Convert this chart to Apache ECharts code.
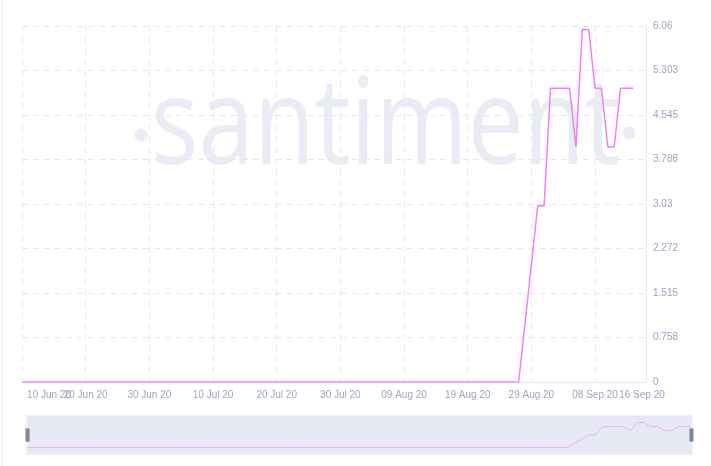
<!DOCTYPE html>
<html>
<head>
<meta charset="utf-8">
<script src="https://cdn.jsdelivr.net/npm/echarts@6/dist/echarts.min.js"></script>
<style>
  html, body { margin: 0; padding: 0; background: #ffffff; }
  #edge { position: absolute; left: 2px; top: 0; width: 1px; height: 466px; background: #eceef5; }
  #chart { position: absolute; left: 0; top: 0; width: 711px; height: 466px; }
</style>
</head>
<body>
<div id="edge"></div>
<div id="chart"></div>
<script>
// ---- data ----
const startDate = '2020-06-10';
const dayCount = 99; // axis runs 10 Jun 20 .. 16 Sep 20
const monthNames = ['Jan','Feb','Mar','Apr','May','Jun','Jul','Aug','Sep','Oct','Nov','Dec'];
// daily values from 10 Jun 20 to 14 Sep 20
const values = [
  0, 0, 0, 0, 0, 0, 0, 0, 0, 0,
  0, 0, 0, 0, 0, 0, 0, 0, 0, 0,
  0, 0, 0, 0, 0, 0, 0, 0, 0, 0,
  0, 0, 0, 0, 0, 0, 0, 0, 0, 0,
  0, 0, 0, 0, 0, 0, 0, 0, 0, 0,
  0, 0, 0, 0, 0, 0, 0, 0, 0, 0,
  0, 0, 0, 0, 0, 0, 0, 0, 0, 0,
  0, 0, 0, 0, 0, 0, 0, 0, 0, 1,
  2, 3, 3, 5, 5, 5, 5, 4, 6, 6,
  5, 5, 4, 4, 5, 5, 5
];
const yTickLabels = ['0', '0.758', '1.515', '2.272', '3.03', '3.788', '4.545', '5.303', '6.06'];
const yMax = 6.06;
const yStep = 0.7575;
const labelEvery = 10;

// category labels (dates)
const categories = [];
{
  const t0 = Date.parse(startDate + 'T00:00:00Z');
  for (let i = 0; i < dayCount; i++) {
    const d = new Date(t0 + i * 86400000);
    const dd = String(d.getUTCDate()).padStart(2, '0');
    const yy = String(d.getUTCFullYear()).slice(2);
    categories.push(dd + ' ' + monthNames[d.getUTCMonth()] + ' ' + yy);
  }
}

const lineColor = '#f47df8';
const labelColor = '#9da6c2';
const gridColor = '#e6e8f2';
const wmColor = '#e9ecf5';
const lastIdx = categories.length - 1;
const showIdx = (i) => i % labelEvery === 0 || i === lastIdx;
const font = 'Liberation Sans, Arial, sans-serif';

const chart = echarts.init(document.getElementById('chart'), null, { renderer: 'canvas' });
chart.setOption({
  backgroundColor: 'transparent',
  animation: false,
  graphic: [
    {
      type: 'text', z: -10, left: 151, top: 70, scaleX: 0.83,
      style: { text: 'santiment', fontFamily: 'Open Sans', fontWeight: 400, fontSize: 120, fill: wmColor }
    },
    { type: 'circle', z: -10, shape: { cx: 141, cy: 135, r: 6.5 }, style: { fill: wmColor } },
    { type: 'circle', z: -10, shape: { cx: 629, cy: 133, r: 6.5 }, style: { fill: wmColor } }
  ],
  grid: { left: 22, right: 65, top: 26, bottom: 84, containLabel: false },
  xAxis: {
    type: 'category',
    data: categories,
    boundaryGap: false,
    axisLine: { show: true, lineStyle: { color: gridColor } },
    axisTick: { show: false },
    axisLabel: {
      interval: 0,
      hideOverlap: false,
      color: labelColor,
      fontSize: 10,
      fontFamily: font,
      margin: 8,
      formatter: (v, i) => {
        if (!showIdx(i)) return '';
        if (i === 0) return '{f|' + v + '}';
        if (i === lastIdx) return '{l|' + v + '}';
        return v;
      },
      rich: {
        f: { padding: [0, 0, 0, 54], color: labelColor, fontSize: 10, fontFamily: font },
        l: { padding: [0, 8, 0, 0], color: labelColor, fontSize: 10, fontFamily: font }
      }
    },
    splitLine: {
      show: true,
      interval: (i) => showIdx(i) && i !== lastIdx,
      lineStyle: { color: gridColor, type: [6, 5], width: 1 }
    }
  },
  yAxis: {
    type: 'value',
    position: 'right',
    min: 0,
    max: yMax,
    interval: yStep,
    axisLine: { show: true, lineStyle: { color: gridColor } },
    axisTick: { show: false },
    axisLabel: {
      color: labelColor,
      fontSize: 10,
      fontFamily: font,
      margin: 7,
      formatter: (v) => yTickLabels[Math.round(v / yStep)] ?? ''
    },
    splitLine: { show: true, lineStyle: { color: gridColor, type: [6, 5], width: 1 } }
  },
  dataZoom: [{
    type: 'slider',
    xAxisIndex: 0,
    start: 0,
    end: 100,
    left: 24,
    right: 21,
    top: 415,
    height: 40,
    backgroundColor: 'transparent',
    borderColor: '#eef0f6',
    borderRadius: 3,
    fillerColor: 'rgba(214,219,235,0.6)',
    showDetail: false,
    brushSelect: false,
    moveHandleSize: 0,
    showDataShadow: true,
    handleIcon: 'path://M0,0H4V13H0Z',
    handleSize: '33%',
    handleStyle: { color: '#7e879e', borderColor: '#7e879e', borderWidth: 0 },
    emphasis: { handleStyle: { color: '#7e879e', borderColor: '#7e879e' } },
    dataBackground: { lineStyle: { color: lineColor, width: 1, opacity: 1 }, areaStyle: { opacity: 0 } },
    selectedDataBackground: { lineStyle: { color: lineColor, width: 1, opacity: 1 }, areaStyle: { opacity: 0 } }
  }],
  series: [{
    type: 'line',
    data: values,
    showSymbol: false,
    symbol: 'none',
    lineStyle: { color: lineColor, width: 1.5 },
    itemStyle: { color: lineColor }
  }]
});
</script>
</body>
</html>
